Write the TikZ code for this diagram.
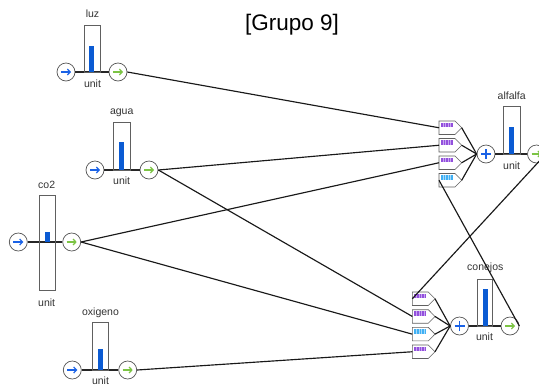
\documentclass[tikz,border=0pt]{standalone}
\usepackage{fontspec}
\setmainfont{Liberation Sans}
\usetikzlibrary{arrows.meta}
\definecolor{portgray}{HTML}{555555}
\definecolor{rectgray}{HTML}{606060}
\definecolor{barblue}{HTML}{0B5BD3}
\definecolor{inblue}{HTML}{1A62E6}
\definecolor{outgreen}{HTML}{7CC444}
\definecolor{labgray}{HTML}{333333}
\definecolor{purp}{HTML}{9350DC}
\definecolor{purps}{HTML}{C6A4F2}
\definecolor{lblue}{HTML}{40B0F4}
\definecolor{lblues}{HTML}{A6DAFA}
\tikzset{
  port/.style={circle, draw=portgray, fill=white, line width=0.7pt, minimum size=18pt, inner sep=0pt},
  lvlbox/.style={draw=rectgray, line width=0.6pt},
  barfill/.style={fill=barblue},
  stockline/.style={line width=1.1pt, black!85},
  conn/.style={line width=1.15pt, black!90},
  inarr/.style={inblue, line width=1.2pt, -{Straight Barb[length=2.8pt,width=6pt]}},
  outarr/.style={outgreen, line width=1.2pt, -{Straight Barb[length=2.8pt,width=6pt]}},
  plussign/.style={inblue, line width=1.3pt},
  lab/.style={font=\fontsize{10.5}{10.5}\selectfont, text=labgray, inner sep=0pt},
  tagline/.style={draw=rectgray, line width=0.6pt},
}
\newcommand\tagbox[4]{%
  \coordinate (#1-w) at (#2,#3+6.75);
  \coordinate (#1-t) at (#2+22.7,#3+6.75);
  \draw[tagline] (#2,#3) -- (#2+16,#3) -- (#1-t) -- (#2+16,#3+13.5) -- (#2,#3+13.5) -- cycle;
  \fill[#4] (#2+1.5,#3+1.6) rectangle (#2+14,#3+6.2);
  \foreach \k in {1,...,4} \draw[color=#4s, line width=0.5pt] (#2+1.5+2.5*\k,#3+1.6) -- ++(0,4.6);
}
\newcommand\inarrow[1]{\draw[inarr] ([xshift=-5pt]#1.center) -- ([xshift=5pt]#1.center);}
\newcommand\outarrow[1]{\draw[outarr] ([xshift=-5pt]#1.center) -- ([xshift=5pt]#1.center);}
\newcommand\plusmark[1]{\draw[plussign] ([xshift=-5pt]#1.center) -- ([xshift=5pt]#1.center) ([yshift=-5pt]#1.center) -- ([yshift=5pt]#1.center);}
\begin{document}
\begin{tikzpicture}[x=1pt,y=-1pt]
\useasboundingbox (0,0) rectangle (539,384);
\fill[white] (0,0) rectangle (539,384);
\clip (0,0) rectangle (539,384);

\node[font=\fontsize{22.5}{22.5}\selectfont, inner sep=0pt] (title) at (292,25) {[Grupo 9]};

% ---------- luz
\node[port] (luzin) at (66,72) {};
\node[port] (luzout) at (118,72) {};
\draw[stockline] (luzin.east) -- (luzout.west);
\fill[barfill] (89.3,45.7) rectangle (94.3,72);
\draw[lvlbox] (84.3,25.3) rectangle (100.7,72);
\inarrow{luzin}\outarrow{luzout}
\node[lab] (luzname) at (92.5,14) {luz};
\node[lab] (luzunit) at (92.5,83.5) {unit};

% ---------- agua
\node[port] (aguain) at (95,170) {};
\node[port] (aguaout) at (149,170) {};
\draw[stockline] (aguain.east) -- (aguaout.west);
\fill[barfill] (119.2,141.7) rectangle (124.2,170);
\draw[lvlbox] (113.3,122) rectangle (130,170);
\inarrow{aguain}\outarrow{aguaout}
\node[lab] (aguaname) at (121.7,112.5) {agua};
\node[lab] (aguaunit) at (121.7,181) {unit};

% ---------- co2
\node[port] (co2in) at (18.3,242) {};
\node[port] (co2out) at (71.7,242) {};
\draw[stockline] (co2in.east) -- (co2out.west);
\fill[barfill] (44.7,231.7) rectangle (49.5,242);
\draw[lvlbox] (39.3,195.7) rectangle (55,290.7);
\inarrow{co2in}\outarrow{co2out}
\node[lab] (co2name) at (46.7,185) {co2};
\node[lab] (co2unit) at (46.7,302.5) {unit};

% ---------- oxigeno
\node[port] (oxin) at (72.3,370) {};
\node[port] (oxout) at (127.7,370) {};
\draw[stockline] (oxin.east) -- (oxout.west);
\fill[barfill] (97.7,349.3) rectangle (102.7,370);
\draw[lvlbox] (92.3,322.3) rectangle (108.7,370);
\inarrow{oxin}\outarrow{oxout}
\node[lab] (oxname) at (100.5,312.5) {oxigeno};
\node[lab] (oxunit) at (100.5,381) {unit};

% ---------- alfalfa
\node[port] (alfplus) at (486,154) {};
\node[port] (alfout) at (536.5,154) {};
\draw[stockline] (alfplus.east) -- (alfout.west);
\fill[barfill] (509,126.7) rectangle (514,154);
\draw[lvlbox] (503.3,106.7) rectangle (520,154);
\plusmark{alfplus}\outarrow{alfout}
\node[lab] (alfname) at (511.7,96) {alfalfa};
\node[lab] (alfunit) at (511.7,166) {unit};
\tagbox{a1}{439}{121}{purp}
\tagbox{a2}{439}{138.5}{purp}
\tagbox{a3}{439}{156}{purp}
\tagbox{a4}{439}{173.5}{lblue}
\foreach \i in {1,...,4} \draw[conn] (a\i-t) -- (alfplus.west);

% ---------- conejos
\node[port] (conplus) at (459.5,326) {};
\node[port] (conout) at (510,326) {};
\draw[stockline] (conplus.east) -- (conout.west);
\fill[barfill] (482.5,289.3) rectangle (487.5,326);
\draw[lvlbox] (477.3,279) rectangle (492.7,326);
\plusmark{conplus}\outarrow{conout}
\node[lab] (conname) at (485.3,267.5) {conejos};
\node[lab] (conunit) at (484.5,337) {unit};
\tagbox{c1}{412.3}{292}{purp}
\tagbox{c2}{412.3}{309.7}{purp}
\tagbox{c3}{412.3}{327.4}{lblue}
\tagbox{c4}{412.3}{345}{purp}
\foreach \i in {1,...,4} \draw[conn] (c\i-t) -- (conplus.west);

% ---------- connectors
\draw[conn] (luzout.east) -- (a1-w);
\draw[conn] (aguaout.east) -- (a2-w);
\draw[conn] (aguaout.east) -- (c2-w);
\draw[conn] (co2out.east) -- (a3-w);
\draw[conn] (co2out.east) -- (c3-w);
\draw[conn] (oxout.east) -- (c4-w);
\draw[conn] (alfout.east) -- (c1-w);
\draw[conn] (conout.east) -- (a4-w);
\end{tikzpicture}
\end{document}
